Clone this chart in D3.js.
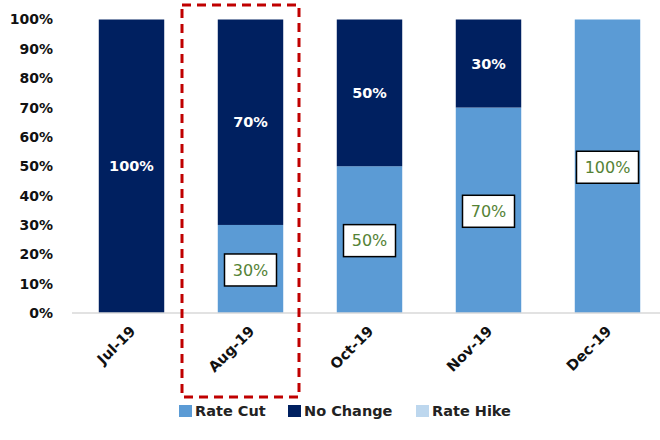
<!DOCTYPE html>
<html>
<head>
<meta charset="utf-8">
<script src="https://cdn.jsdelivr.net/npm/d3@7"></script>
<style>
  body { margin: 0; background: #fff; }
  svg { font-family: "DejaVu Sans", Verdana, sans-serif; }
</style>
</head>
<body>
<div id="chart"></div>
<script>
// dados
const months = ["Jul-19", "Aug-19", "Oct-19", "Nov-19", "Dec-19"];
const rateCut = [0, 0.3, 0.5, 0.7, 1.0];
const noChange = [1.0, 0.7, 0.5, 0.3, 0];
const rateHike = [0, 0, 0, 0, 0];
const seriesNames = ["Rate Cut", "No Change", "Rate Hike"];
const seriesColors = ["#5B9BD5", "#002060", "#BDD7EE"];
const yTicks = [0, 0.1, 0.2, 0.3, 0.4, 0.5, 0.6, 0.7, 0.8, 0.9, 1.0];

const W = 660, H = 440;
const svg = d3.select("#chart").append("svg")
    .attr("width", W).attr("height", H);

const x = d3.scaleBand().domain(months).range([72, 667]).paddingInner(0.45).paddingOuter(0.225);
const y = d3.scaleLinear().domain([0, 1]).range([313, 19.5]);

const rows = months.map((m, i) => ({ month: m, "Rate Cut": rateCut[i], "No Change": noChange[i], "Rate Hike": rateHike[i] }));
const stack = d3.stack().keys(seriesNames)(rows);

// barras
svg.selectAll(".serie")
    .data(stack)
    .enter().append("g")
    .attr("fill", (d, i) => seriesColors[i])
    .selectAll("rect")
    .data(d => d.filter(p => p[1] - p[0] > 0))
    .enter().append("rect")
    .attr("x", d => x(d.data.month))
    .attr("y", d => y(d[1]))
    .attr("width", x.bandwidth())
    .attr("height", d => y(d[0]) - y(d[1]));

// eixo X (linha)
svg.append("line")
    .attr("x1", 72).attr("x2", 667)
    .attr("y1", y(0)).attr("y2", y(0))
    .attr("stroke", "#d9d9d9").attr("stroke-width", 1.5);

// eixo Y
const yAxis = svg.append("g")
    .attr("transform", "translate(53,0)")
    .call(d3.axisLeft(y).tickValues(yTicks).tickFormat(d3.format(".0%")).tickSize(0).tickPadding(0));
yAxis.select(".domain").remove();
yAxis.selectAll("text")
    .attr("font-size", 14).attr("font-weight", "bold").attr("fill", "#111")
    .attr("font-family", "'DejaVu Sans', sans-serif");

// labels X rodados
svg.selectAll(".xlab")
    .data(months)
    .enter().append("text")
    .attr("transform", d => `translate(${x(d) + x.bandwidth() / 2 + 5},${y(0) + 19}) rotate(-45)`)
    .attr("text-anchor", "end")
    .attr("font-size", 14.5).attr("font-weight", "bold").attr("fill", "#111")
    .text(d => d);

// labels No Change (brancos)
svg.selectAll(".lblNC")
    .data(stack[1].filter(d => d[1] - d[0] > 0))
    .enter().append("text")
    .attr("x", d => x(d.data.month) + x.bandwidth() / 2)
    .attr("y", d => (y(d[0]) + y(d[1])) / 2)
    .attr("dy", "0.36em")
    .attr("text-anchor", "middle")
    .attr("fill", "#fff").attr("font-size", 14.5).attr("font-weight", "bold")
    .text(d => d3.format(".0%")(d[1] - d[0]));

// labels Rate Cut (caixas)
const cutLbl = svg.selectAll(".lblRC")
    .data(stack[0].filter(d => d[1] - d[0] > 0))
    .enter().append("g")
    .attr("transform", d => `translate(${x(d.data.month) + x.bandwidth() / 2},${(y(d[0]) + y(d[1])) / 2 + 1})`);
cutLbl.append("rect")
    .attr("x", d => (d[1] - d[0]) >= 1 ? -31 : -26)
    .attr("y", -16)
    .attr("width", d => (d[1] - d[0]) >= 1 ? 62 : 52)
    .attr("height", 32)
    .attr("fill", "#fff").attr("stroke", "#000").attr("stroke-width", 1.5);
cutLbl.append("text")
    .attr("text-anchor", "middle").attr("dy", "0.36em")
    .attr("fill", "#548235").attr("font-size", 16)
    .text(d => d3.format(".0%")(d[1] - d[0]));

// retangulo vermelho tracejado (Aug-19)
svg.append("rect")
    .attr("x", 182).attr("y", 5)
    .attr("width", 117).attr("height", 392)
    .attr("fill", "none")
    .attr("stroke", "#c00000").attr("stroke-width", 3)
    .attr("stroke-dasharray", "9,6");

// legenda
const legX = [179, 288, 416];
const leg = svg.selectAll(".leg")
    .data(seriesNames)
    .enter().append("g")
    .attr("transform", (d, i) => `translate(${legX[i]},405)`);
leg.append("rect")
    .attr("width", 13).attr("height", 12)
    .attr("fill", (d, i) => seriesColors[i]);
leg.append("text")
    .attr("x", 16).attr("y", 6).attr("dy", "0.36em")
    .attr("font-size", 14.5).attr("font-weight", "bold").attr("fill", "#222")
    .text(d => d);
</script>
</body>
</html>
